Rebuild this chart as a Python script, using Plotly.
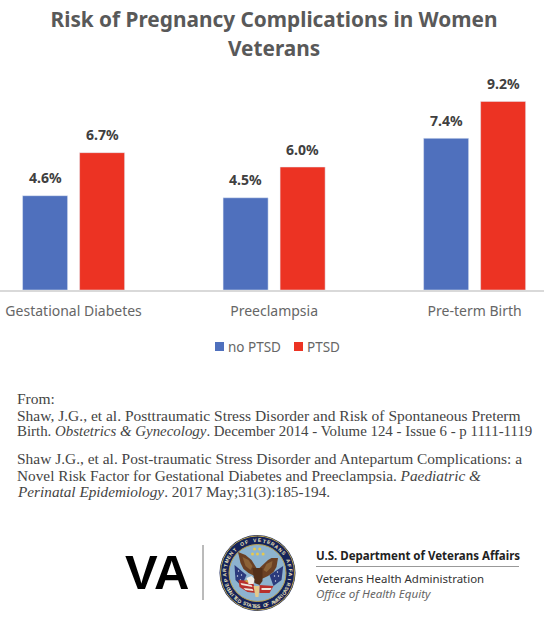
import math
import plotly.graph_objects as go

# Chart data
categories = ["Gestational Diabetes", "Preeclampsia", "Pre-term Birth"]
no_ptsd = [4.6, 4.5, 7.4]
ptsd = [6.7, 6.0, 9.2]
series_names = ["no PTSD", "PTSD"]

title_first = "Risk of Pregnancy Complications in Women"
title_second = "Veterans"
reference_lines = [
    "From:",
    "Shaw, J.G., et al. Posttraumatic Stress Disorder and Risk of Spontaneous Preterm",
    "Birth. <i>Obstetrics &amp; Gynecology</i>. December 2014 - Volume 124 - Issue 6 - p 1111-1119",
    "Shaw J.G., et al. Post-traumatic Stress Disorder and Antepartum Complications: a",
    "Novel Risk Factor for Gestational Diabetes and Preeclampsia. <i>Paediatric &amp;</i>",
    "<i>Perinatal Epidemiology</i>. 2017 May;31(3):185-194.",
]
reference_rows = [398, 415, 431, 458, 475, 492]
reference_sizes = [15.5, 15.5, 14.9, 15.45, 15.3, 15.25]

BLUE = "#4F70BD"
RED = "#EC3323"
W, H = 544, 630
AXIS_Y = 290


def px(x):
    return x / W


def py(y):
    return 1 - y / H


def poly(points, color):
    path = "M" + " L".join(f"{px(x):.5f},{py(y):.5f}" for x, y in points) + " Z"
    return dict(type="path", xref="paper", yref="paper", path=path,
                fillcolor=color, line=dict(width=0), layer="above")


def disc(cx, cy, r, color, line=None, lw=0):
    return dict(type="circle", xref="paper", yref="paper",
                x0=px(cx - r), x1=px(cx + r), y0=py(cy + r), y1=py(cy - r),
                fillcolor=color, line=dict(width=lw, color=line or color), layer="above")


def label(x, y, text, size, color, family, anchor="left", angle=0, bold=False):
    if bold:
        text = f"<b>{text}</b>"
    return dict(xref="paper", yref="paper", x=px(x), y=py(y), text=text, showarrow=False,
                xanchor=anchor, yanchor="middle", textangle=angle, align=anchor,
                font=dict(size=size, color=color, family=family))


fig = go.Figure()
fig.add_bar(x=categories, y=no_ptsd, name=series_names[0], marker_color=BLUE)
fig.add_bar(x=categories, y=ptsd, name=series_names[1], marker_color=RED)

annotations = []
shapes = []

# Second title line, set apart from the first with wider leading
annotations.append(label(274, 48, title_second, 20.8, "#595959", "Noto Sans", "center", bold=True))

# Value labels above each bar
for values, shift in ((no_ptsd, -28.5), (ptsd, 28.5)):
    for cat, v in zip(categories, values):
        annotations.append(dict(x=cat, y=v, xref="x", yref="y", text=f"<b>{v:.1f}%</b>",
                                showarrow=False, xshift=shift, yshift=18, yanchor="middle",
                                font=dict(size=14, color="#404040", family="Noto Sans")))

# Legend row
for x0, color, text in ((215, BLUE, series_names[0]), (294, RED, series_names[1])):
    shapes.append(dict(type="rect", xref="paper", yref="paper", x0=px(x0), x1=px(x0 + 9),
                       y0=py(351), y1=py(342), fillcolor=color, line=dict(width=0)))
    annotations.append(label(x0 + 11, 346.5, text, 13.5, "#666666", "Noto Sans"))

# Source citations
for row, line, size in zip(reference_rows, reference_lines, reference_sizes):
    annotations.append(label(15, row, line, size, "#444444", "Liberation Serif"))

# Department masthead
annotations.append(label(157, 571.5, "VA", 49, "#000000", "Liberation Sans", "center", bold=True))
shapes.append(dict(type="line", xref="paper", yref="paper", x0=px(203), x1=px(203),
                   y0=py(545), y1=py(600), line=dict(color="#777777", width=1)))
annotations.append(label(314, 555, "U.S. Department of Veterans Affairs", 11.5, "#222222",
                         "Noto Sans", bold=True))
shapes.append(dict(type="line", xref="paper", yref="paper", x0=px(316), x1=px(519),
                   y0=py(566.5), y1=py(566.5), line=dict(color="#999999", width=1)))
annotations.append(label(314, 578, "Veterans Health Administration", 11.45, "#333333", "Noto Sans"))
annotations.append(label(314, 593, "<i>Office of Health Equity</i>", 11.6, "#666666", "Noto Sans"))

# Seal: rings
CX, CY = 257.5, 573
shapes += [
    disc(CX, CY, 38, "#15235A"),
    disc(CX, CY, 37, "#15235A", "#B9A24E", 1),
    disc(CX, CY, 28.5, "#8DB3CF", "#B9A24E", 1),
]


def seal(points, color):
    shapes.append(poly([(CX + x, CY + y) for x, y in points], color))


# Seal: flags, stripes, wings, body, head, stars
seal([(-23, -8), (-11, 2), (-16, 13), (-22, 7)], "#2B3A7C")
seal([(25.7, -7), (12, 2), (16, 13), (24, 7)], "#2B3A7C")
for sx, sy in ((-19, -2), (-16, 2), (-20, 3), (-17, 7), (20, -1), (17, 3), (21, 3), (18, 8)):
    shapes.append(disc(CX + sx, CY + sy, 0.7, "#DDE3EE"))
seal([(-19, 7), (-5, 8), (-1, 20), (-10, 19), (-18, 14)], "#B8302C")
seal([(2, 12), (16, 13), (12, 20), (2, 20)], "#B8302C")
seal([(-17, 10), (-6, 12), (-5, 14), (-16, 12)], "#EFE8DE")
seal([(-14, 15), (-5, 16), (-4, 18), (-12, 17)], "#EFE8DE")
seal([(4, 15), (14, 15), (13, 17), (4, 17)], "#EFE8DE")
seal([(-19.5, -21), (-12, -18), (-6, -13), (-1, -5), (-3, 3), (-9, 0), (-14, -4), (-17, -10)], "#6B4024")
seal([(20.5, -15), (14, -15), (10.5, -13), (2, -5), (2, 7), (10.5, 3), (16, -1), (19, -6)], "#6B4024")
seal([(-15, -16), (-9, -13), (-5, -7), (-7, -3), (-12, -7)], "#8C6238")
seal([(15, -12), (9, -9), (6, -3), (9, -1), (14, -6)], "#8C6238")
seal([(-5, -5), (5, -5), (5, 8), (2, 12), (-3, 10)], "#54301A")
seal([(-11, 5), (-6, 3), (-3, 6), (-4, 11), (-9, 11)], "#F1ECE4")
seal([(-13, 8), (-10, 7), (-9, 10)], "#D6A93A")
seal([(-4, 13), (2, 13), (1, 24), (-2, 24)], "#E3C98A")
for sx, sy in ((-3, -24), (2.3, -24), (-5, -19), (0, -19), (5.6, -19)):
    shapes.append(disc(CX + sx, CY + sy, 1.5, "#E7C94E"))


# Seal: lettering set around the ring, one glyph at a time
def ring_text(text, start_deg, end_deg, radius, flip):
    n = len(text)
    for i, ch in enumerate(text):
        deg = start_deg + (end_deg - start_deg) * i / (n - 1)
        a = math.radians(deg)
        x = CX + radius * math.sin(a)
        y = CY - radius * math.cos(a)
        angle = deg + 180 if flip else deg
        annotations.append(label(x, y, f"<b>{ch}</b>", 5, "#EFE4BC", "Liberation Sans",
                                 "center", angle=angle))


ring_text("DEPARTMENT OF VETERANS AFFAIRS", -118, 118, 33, False)
ring_text("UNITED STATES OF AMERICA", 238, 122, 33, True)

fig.update_layout(
    width=W, height=H, autosize=False,
    margin=dict(l=0, r=0, t=0, b=0),
    paper_bgcolor="white", plot_bgcolor="white",
    barmode="group", bargap=0.4314, bargroupgap=0.21,
    showlegend=False,
    title=dict(text=f"<b>{title_first}</b>", x=274 / W, xanchor="center", y=0.98, yanchor="top",
               font=dict(size=20.8, color="#595959", family="Noto Sans")),
    xaxis=dict(type="category", range=[-0.367, 2.346], showgrid=False, ticks="",
               showline=True, linecolor="#D9D9D9", linewidth=2,
               tickfont=dict(size=14, color="#666666", family="Noto Sans"),
               ticklabelstandoff=7),
    yaxis=dict(range=[0, AXIS_Y / 20.5], visible=False, domain=[1 - AXIS_Y / H, 1]),
    annotations=annotations,
    shapes=shapes,
)

fig.write_html("out.html", config=dict(displayModeBar=False))
